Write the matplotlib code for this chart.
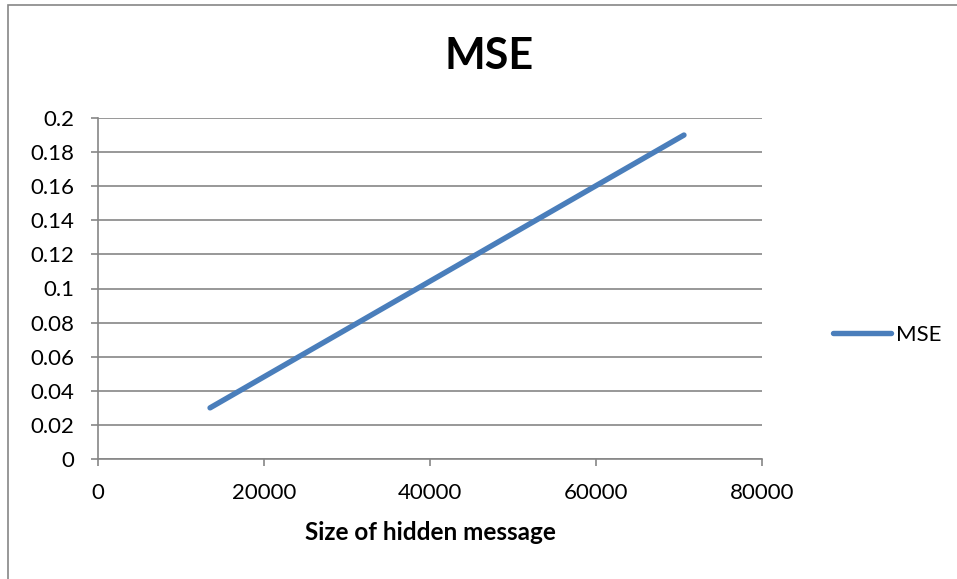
import matplotlib.pyplot as plt
from matplotlib.patches import Rectangle

# data
msg_size = [13500, 70600]
mse = [0.03, 0.19]
x_ticks = [0, 20000, 40000, 60000, 80000]
y_ticks = [0, 0.02, 0.04, 0.06, 0.08, 0.1, 0.12, 0.14, 0.16, 0.18, 0.2]
y_labels = ["0", "0.02", "0.04", "0.06", "0.08", "0.1", "0.12", "0.14", "0.16", "0.18", "0.2"]

plt.rcParams['font.family'] = ['Lato', 'DejaVu Sans']
grey = '#868686'
W, H = 957, 579

fig = plt.figure(figsize=(W / 100, H / 100), dpi=100)
ax = fig.add_axes([98 / W, 1 - 459 / H, 664 / W, 341 / H])

ax.plot(msg_size, mse, color='#4a7ebb', lw=3.9, solid_capstyle='round', label='MSE')

ax.set_xlim(0, 80000)
ax.set_ylim(0, 0.2)
ax.set_xticks(x_ticks)
ax.set_xticklabels([str(v) for v in x_ticks])
ax.set_yticks(y_ticks)
ax.set_yticklabels(y_labels)
ax.tick_params(axis='both', labelsize=16, colors=grey, labelcolor='black', length=5, width=1.2, pad=12)
ax.grid(axis='y', color=grey, lw=1.2)
ax.set_axisbelow(True)
for s in ['top', 'right']:
    ax.spines[s].set_visible(False)
for s in ['left', 'bottom']:
    ax.spines[s].set_color(grey)
    ax.spines[s].set_linewidth(1.2)

fig.text(430 / W, 1 - 533 / H, 'Size of hidden message', fontsize=17.5, fontweight='bold',
         ha='center', va='center')
fig.text(489 / W, 1 - 56 / H, 'MSE', fontsize=31, fontweight='bold', ha='center', va='center')

ax.legend(loc='center left', bbox_to_anchor=(833 / W, 1 - 335 / H), bbox_transform=fig.transFigure,
          frameon=False, fontsize=16, handlelength=2.6, handletextpad=0.25,
          borderpad=0, borderaxespad=0)

# outer chart border
fig.patches.append(Rectangle((8 / W, -0.1), 1.2, 1 - 5 / H + 0.1, transform=fig.transFigure,
                             fill=False, edgecolor=grey, lw=1.2))

fig.savefig('out.png', dpi=100)
